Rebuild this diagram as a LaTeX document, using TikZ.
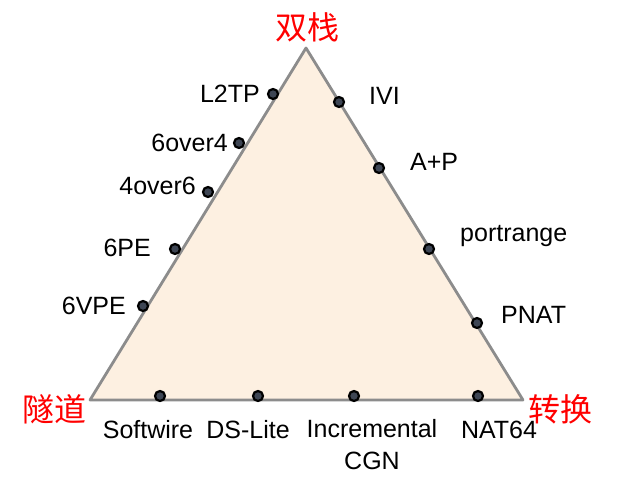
\documentclass[tikz,border=0pt]{standalone}
\usepackage{fontspec}
\setmainfont{Liberation Sans}
\newfontfamily\cjk{Noto Sans CJK SC}
\definecolor{peach}{RGB}{253,240,225}
\definecolor{edgegray}{RGB}{140,140,140}
\definecolor{dotfill}{RGB}{62,70,84}
\begin{document}
\begin{tikzpicture}[x=1pt,y=-1pt,
  dot/.style={circle,draw=black,fill=dotfill,line width=2.2pt,inner sep=0pt,minimum size=10pt},
  lbl/.style={inner sep=0pt,font=\fontsize{25}{29}\selectfont},
  cn/.style={inner sep=0pt,text=red,font=\cjk\fontsize{32}{34}\selectfont}]
\useasboundingbox (0,0) rectangle (621,479);
\coordinate (T) at (306,48);
\coordinate (L) at (90,400);
\coordinate (R) at (523,400);
\draw[edgegray,line width=2.8pt,fill=peach,line join=round] (T) -- (L) -- (R) -- cycle;
% corner labels
\node[cn] (sz) at (307,27) {双栈};
\node[cn] (sd) at (54,409) {隧道};
\node[cn] (zh) at (560,409) {转换};
% dots
\node[dot] (d1) at (273,94) {};
\node[dot] (d2) at (239,143) {};
\node[dot] (d3) at (208,192) {};
\node[dot] (d4) at (175,249) {};
\node[dot] (d5) at (143,306) {};
\node[dot] (d6) at (339,102) {};
\node[dot] (d7) at (379,168) {};
\node[dot] (d8) at (429,249) {};
\node[dot] (d9) at (477,323) {};
\node[dot] (b1) at (160,396) {};
\node[dot] (b2) at (258,396) {};
\node[dot] (b3) at (354,396) {};
\node[dot] (b4) at (478,396) {};
% left labels
\node[lbl,anchor=east] (t1) at (260,94) {L2TP};
\node[lbl,anchor=east] (t2) at (228,143) {6over4};
\node[lbl,anchor=east] (t3) at (196,186) {4over6};
\node[lbl,anchor=east] (t4) at (151,248) {6PE};
\node[lbl,anchor=east] (t5) at (126,306) {6VPE};
% right labels
\node[lbl,anchor=west] (t6) at (369,96) {IVI};
\node[lbl,anchor=west] (t7) at (410,162) {A+P};
\node[lbl,anchor=west] (t8) at (460,236) {portrange};
\node[lbl,anchor=west] (t9) at (501,315) {PNAT};
% bottom labels
\node[lbl] (u1) at (148,430) {Softwire};
\node[lbl] (u2) at (248,430) {DS-Lite};
\node[lbl,align=center,font=\fontsize{25}{32}\selectfont,anchor=north] (u3) at (372,419) {Incremental\\CGN};
\node[lbl] (u4) at (499,430) {NAT64};
\end{tikzpicture}
\end{document}
